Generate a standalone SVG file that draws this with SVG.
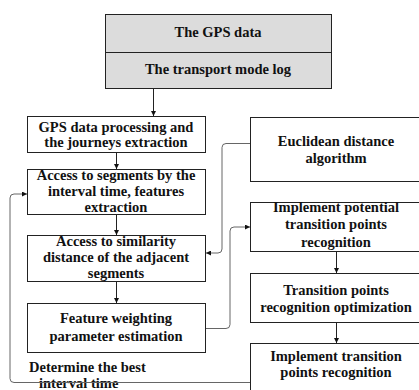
<svg xmlns="http://www.w3.org/2000/svg" width="419" height="390" viewBox="0 0 419 390">
<defs>
<style>
.box{fill:#ffffff;stroke:#222;stroke-width:1}
.gray{fill:#dcdcdc;stroke:#222;stroke-width:1}
.t{font-family:"Liberation Serif","Times New Roman",serif;font-weight:bold;font-size:14.5px;fill:#111;text-anchor:middle}
.tl{font-family:"Liberation Serif","Times New Roman",serif;font-weight:bold;font-size:14.5px;fill:#111}
.ln{fill:none;stroke:#222;stroke-width:1}
.lg{fill:none;stroke:#666;stroke-width:1}
</style>
<marker id="ah" viewBox="0 0 10 10" refX="10" refY="5" markerWidth="5" markerHeight="5" orient="auto" markerUnits="userSpaceOnUse">
<path d="M0,0 L10,5 L0,10 z" fill="#111"/>
</marker>
</defs>
<rect width="419" height="390" fill="#ffffff"/>

<g id="gps-data">
<rect class="gray" x="105.5" y="14.5" width="226" height="74"/>
<line class="ln" x1="105.5" y1="52.5" x2="331.5" y2="52.5"/>
<text class="t" x="218" y="37">The GPS data</text>
<text class="t" x="218" y="74">The transport mode log</text>
</g>

<g id="processing">
<rect class="box" x="27.5" y="116.5" width="178" height="36"/>
<text class="t" x="116" y="132">GPS data processing and</text>
<text class="t" x="116" y="147">the journeys extraction</text>
</g>

<g id="segments">
<rect class="box" x="27.5" y="169.5" width="178" height="45"/>
<text class="t" x="116" y="180">Access to segments by the</text>
<text class="t" x="116" y="196">interval time, features</text>
<text class="t" x="116" y="212">extraction</text>
</g>

<g id="similarity">
<rect class="box" x="27.5" y="235.5" width="178" height="46"/>
<text class="t" x="116" y="246">Access to similarity</text>
<text class="t" x="116" y="262">distance of the adjacent</text>
<text class="t" x="116" y="278">segments</text>
</g>

<g id="weighting">
<rect class="box" x="27.5" y="303.5" width="178" height="49"/>
<text class="t" x="116" y="323">Feature weighting</text>
<text class="t" x="116" y="341">parameter estimation</text>
</g>

<g id="best-interval">
<text class="tl" x="29" y="372">Determine the best</text>
<text class="tl" x="39" y="388">interval time</text>
</g>

<g id="euclidean">
<rect class="box" x="250.5" y="117.5" width="172" height="64"/>
<text class="t" x="336" y="146">Euclidean distance</text>
<text class="t" x="336" y="163">algorithm</text>
</g>

<g id="potential">
<rect class="box" x="250.5" y="202.5" width="172" height="49"/>
<text class="t" x="336" y="212">Implement potential</text>
<text class="t" x="336" y="229">transition points</text>
<text class="t" x="336" y="247">recognition</text>
</g>

<g id="optimization">
<rect class="box" x="250.5" y="273.5" width="172" height="49"/>
<text class="t" x="336" y="295">Transition points</text>
<text class="t" x="336" y="312">recognition optimization</text>
</g>

<g id="implement">
<rect class="box" x="250.5" y="343.5" width="172" height="60"/>
<text class="t" x="336" y="361">Implement transition</text>
<text class="t" x="336" y="377">points recognition</text>
</g>

<g id="connectors">
<line class="ln" x1="153.5" y1="89" x2="153.5" y2="116" marker-end="url(#ah)"/>
<line class="ln" x1="116.5" y1="153" x2="116.5" y2="169" marker-end="url(#ah)"/>
<line class="ln" x1="116.5" y1="215" x2="116.5" y2="235" marker-end="url(#ah)"/>
<line class="ln" x1="116.5" y1="282" x2="116.5" y2="303" marker-end="url(#ah)"/>
<line class="ln" x1="336.5" y1="252" x2="336.5" y2="273" marker-end="url(#ah)"/>
<line class="ln" x1="336.5" y1="323" x2="336.5" y2="343" marker-end="url(#ah)"/>
<path class="lg" d="M250,143.5 H226 Q222,143.5 222,147.5 V249 Q222,253 218,253 H206" marker-end="url(#ah)"/>
<path class="lg" d="M206,328.5 H226 Q230,328.5 230,324.5 V231 Q230,227 234,227 H250" marker-end="url(#ah)"/>
<path class="lg" d="M250,382.5 H14 Q10,382.5 10,378.5 V198 Q10,194 14,194 H27" marker-end="url(#ah)"/>
</g>
</svg>
